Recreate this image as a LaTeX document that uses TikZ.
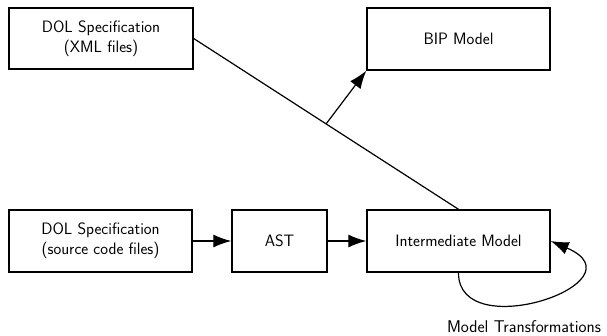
\documentclass[tikz,border=0pt]{standalone}
\usetikzlibrary{arrows.meta,calc}
\begin{document}
\begin{tikzpicture}[x=1pt,y=-1pt,
  box/.style={draw,line width=1.4pt,inner sep=0pt,font=\sffamily\fontsize{16.5}{20}\selectfont,align=center},
  conn/.style={line width=1.2pt},
  arr/.style={conn,-{Latex[length=18pt,width=13pt]}}]
\useasboundingbox (0,0) rectangle (607,335);
\node[box,minimum width=184pt,minimum height=61pt] (xml) at (101,38.5) {DOL Specification\\(XML files)};
\node[box,minimum width=183pt,minimum height=62pt] (bip) at (458.5,39) {BIP Model};
\node[box,minimum width=183pt,minimum height=62pt] (src) at (100.5,241) {DOL Specification\\(source code files)};
\node[box,minimum width=95pt,minimum height=62pt] (ast) at (279.5,241) {AST};
\node[box,minimum width=183pt,minimum height=62pt] (int) at (458.5,241) {Intermediate Model};
\node[font=\sffamily\fontsize{17}{20}\selectfont] (mt) at (524,327) {Model Transformations};
\draw[conn] (xml.east) -- (int.north);
\coordinate (mid) at ($(xml.east)!0.5!(int.north)$);
\draw[arr] (mid) -- (bip.south west);
\draw[arr] (src) -- (ast);
\draw[arr] (ast) -- (int);
\draw[arr] (int.south) .. controls (458,346) and (646,282) .. (int.east);
\end{tikzpicture}
\end{document}
